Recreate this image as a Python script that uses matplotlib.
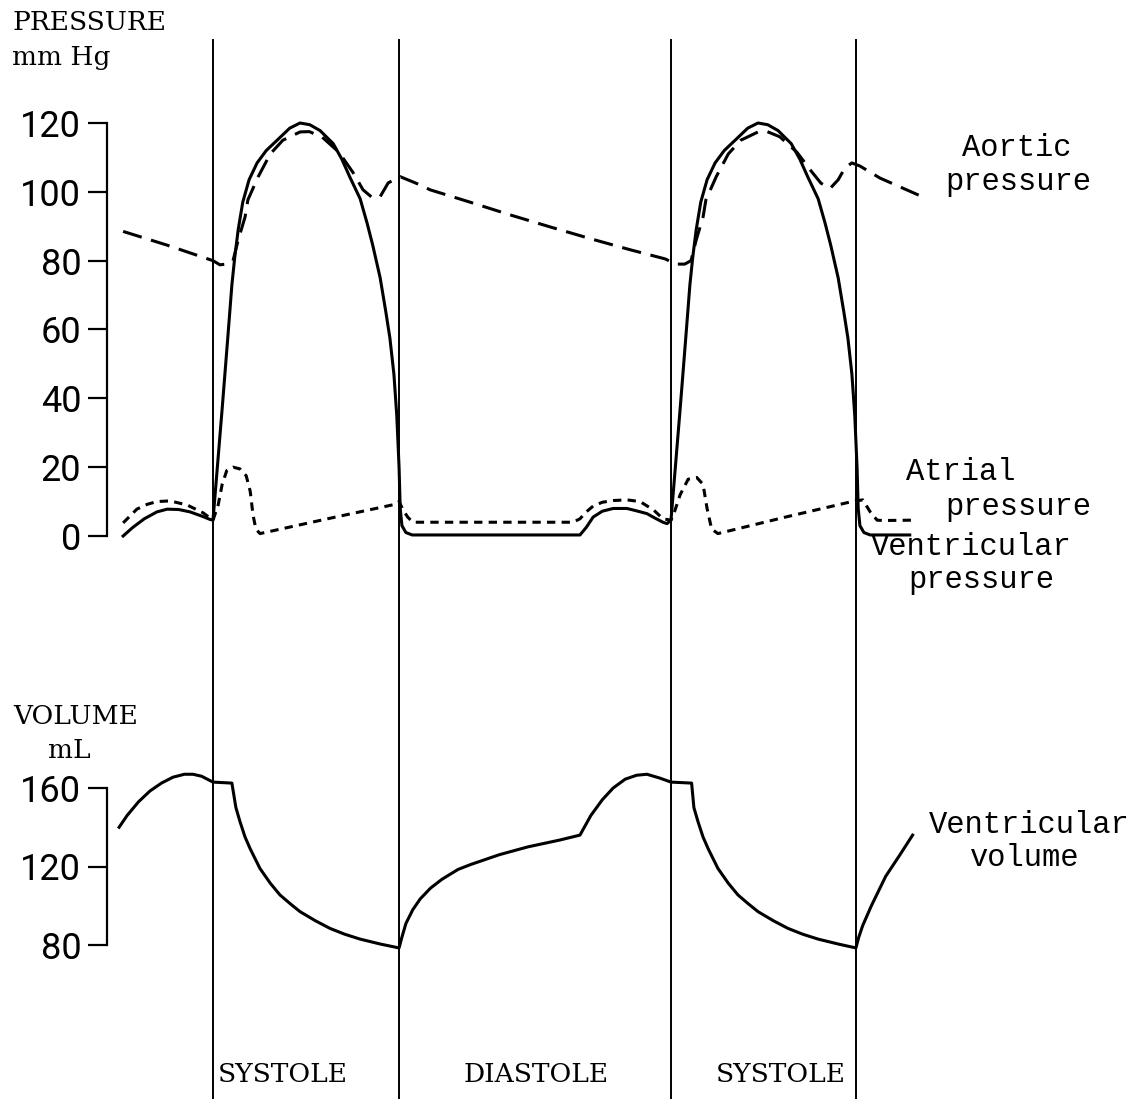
import matplotlib
matplotlib.use("Agg")
import matplotlib.pyplot as plt

plt.rcParams["lines.scale_dashes"] = False

# ---------------- data (time in ms, cycle = 800 ms) ----------------
phase_bounds_ms = [0, 325, 800, 1123]
phase_labels = ["SYSTOLE", "DIASTOLE", "SYSTOLE"]
phase_label_ms = [122, 564, 991]

pressure_ticks = [0, 20, 40, 60, 80, 100, 120]
volume_ticks = [80, 120, 160]

vent_p_t = [-157, -140, -120, -98, -80, -60, -40, -20, -5, 0, 16, 26, 33, 38, 44, 52, 63, 77, 93,
            112, 134, 152, 169, 187, 210, 225, 239, 257, 269, 279, 292, 302, 309, 316, 321, 325,
            327, 330, 337, 348, 641, 652, 664, 680, 699, 723, 740, 758, 772, 786, 793, 800,
            816, 826, 833, 838, 844, 852, 863, 877, 893, 912, 934, 952, 969, 987, 1010, 1025,
            1039, 1057, 1069, 1079, 1092, 1102, 1109, 1116, 1121, 1125, 1127, 1130, 1137, 1148,
            1217]
vent_p = [0, 2.5, 5, 7, 7.8, 7.7, 7, 5.8, 4.8, 4.6, 37, 58, 73, 81, 89, 97, 103.5, 108.4,
          112, 115, 118.5, 120, 119.5, 117.8, 114, 109.5, 104.3, 98, 91, 84.5, 75, 65, 57.5, 47,
          35, 20, 8, 3, 1, 0.3, 0.3, 2.5, 5.5, 7.2, 8, 8, 7.3, 6.5, 5.2, 4, 3.6, 4.6,
          37, 58, 73, 81, 89, 97, 103.5, 108.4, 112, 115, 118.5, 120, 119.5, 117.8, 114,
          109.5, 104.3, 98, 91, 84.5, 75, 65, 57.5, 47, 35, 20, 8, 3, 1, 0.3, 0.3]

aortic_t = [-157, -80, 0, 12, 24, 35, 44, 56, 61, 79, 100, 122, 152, 168, 190, 220, 245, 262, 279,
            292, 306, 327, 362, 379, 449, 519, 589, 659, 728, 790, 808, 824, 835, 844, 856, 861,
            879, 900, 922, 952, 968, 990, 1020, 1045, 1062, 1078, 1092, 1104, 1116, 1130,
            1165, 1240]
aortic_p = [88.5, 84.5, 80, 78.8, 79, 80, 86, 92.7, 97.7, 104.4, 111, 115, 117.4, 117.5, 116,
            111.5, 105.5, 100.6, 98.2, 98.6, 102.6, 104.4, 102, 100.6, 97, 93.3, 89.8, 86.4, 83.2,
            80.5, 79, 79, 80, 86, 92.7, 97.7, 104.4, 111, 115, 117.4, 117.5, 116, 111.5,
            106, 102.5, 101, 103.5, 107, 108.4, 107.5, 104, 98.5]

atrial_t = [-157, -133, -115, -98, -75, -45, -17, -5, 0, 9, 16, 24, 35, 47, 58, 65, 70, 75, 82,
            200, 318, 325, 332, 340, 349, 629, 641, 652, 664, 680, 699, 723, 746, 770, 786, 800,
            806, 816, 830, 845, 856, 863, 871, 882, 1000, 1116, 1135, 1148, 1160, 1170, 1223]
atrial_p = [3.8, 7.8, 9.2, 10, 10.2, 9, 6.7, 5.2, 4.6, 9, 15, 19, 20, 19.5, 17.5, 13, 6, 2, 0.7,
            5, 9.2, 10, 7.6, 5.5, 4, 4, 5, 7, 8.7, 9.8, 10.3, 10.5, 10, 7.5, 5, 4.6,
            7, 12, 16.5, 17, 15, 8, 2, 0.7, 5.5, 10, 10.5, 7, 4.6, 4.5, 4.6]

volume_t = [-164, -150, -130, -110, -90, -70, -50, -35, -20, -10, 0, 33, 40, 47, 56, 65, 82, 100,
            117, 135, 152, 178, 204, 230, 257, 292, 325, 330, 337, 349, 362, 380, 400, 428, 450,
            500, 550, 606, 641, 660, 680, 699, 720, 740, 758, 781, 800, 836, 840, 847, 856, 865,
            882, 900, 917, 935, 952, 978, 1004, 1030, 1057, 1092, 1123, 1128, 1135, 1150, 1165,
            1175, 1200, 1222]
volume_ml = [140, 146, 153, 158.5, 162.5, 165.5, 167, 167, 166, 164.5, 163, 162.5, 150, 143, 135,
             129, 119, 111.5, 105.5, 101, 97, 92.5, 88.5, 85.5, 83, 80.5, 78.5, 84, 91, 98, 103.5,
             109, 113.5, 118.5, 121, 126, 130, 133.5, 136, 146, 154, 160, 164.5, 166.5, 167,
             165, 163, 162.5, 150, 143, 135, 129, 119, 111.5, 105.5, 101, 97, 92.5, 88.5, 85.5,
             83, 80.5, 78.5, 84, 90, 100, 109, 115, 126, 136]

# ---------------- layout helpers (pixels) ----------------
W, H = 1148, 1099
fig = plt.figure(figsize=(W / 100, H / 100), dpi=100)


def rect(x0, y0, x1, y1):
    return [x0 / W, 1 - y1 / H, (x1 - x0) / W, (y1 - y0) / H]


def fx(x):
    return x / W


def fy(y):
    return 1 - y / H


MS_PER_PX = 800 / 458.0
X_ZERO = 213
XLIM = ((107 - X_ZERO) * MS_PER_PX, (1148 - X_ZERO) * MS_PER_PX)

tick_font = dict(family=["Roboto", "DejaVu Sans"], size=26)
serif = ["DejaVu Serif"]
mono = ["Liberation Mono", "DejaVu Sans Mono"]
LW = 2.2


def style_axis(ax, lo, hi, ticks):
    ax.set_xlim(*XLIM)
    ax.set_ylim(lo, hi)
    for s in ["top", "right", "bottom"]:
        ax.spines[s].set_visible(False)
    ax.spines["left"].set_linewidth(1.6)
    ax.spines["left"].set_bounds(ticks[0], ticks[-1])
    ax.set_xticks([])
    ax.set_yticks(ticks)
    ax.set_yticklabels([str(t) for t in ticks], fontdict=tick_font)
    ax.tick_params(axis="y", direction="out", length=13.5, width=1.6, pad=5)
    ax.patch.set_alpha(0)


# overlay for vertical phase lines
ov = fig.add_axes(rect(107, 0, 1148, 1099))
ov.set_xlim(*XLIM)
ov.set_ylim(0, 1)
ov.axis("off")
for b in phase_bounds_ms:
    ov.axvline(b, ymin=0, ymax=fy(40), color="black", lw=1.4)

# pressure panel
axp = fig.add_axes(rect(107, 123, 1148, 536))
style_axis(axp, 0, 120, pressure_ticks)
axp.plot(vent_p_t, vent_p, color="black", lw=LW, clip_on=False, solid_joinstyle="round")
axp.plot(aortic_t, aortic_p, color="black", lw=LW, clip_on=False, dashes=(14, 7))
axp.plot(atrial_t, atrial_p, color="black", lw=LW, clip_on=False, dashes=(6, 4.5))

# volume panel
axv = fig.add_axes(rect(107, 788, 1148, 945))
style_axis(axv, 80, 160, volume_ticks)
axv.plot(volume_t, volume_ml, color="black", lw=LW, clip_on=False, solid_joinstyle="round")

# ---------------- text ----------------
fig.text(fx(12), fy(22), "PRESSURE", family=serif, size=19, va="center", ha="left")
fig.text(fx(12), fy(57), "mm Hg", family=serif, size=19, va="center", ha="left")
fig.text(fx(13), fy(717), "VOLUME", family=serif, size=19, va="center", ha="left")
fig.text(fx(69), fy(750), "mL", family=serif, size=19, va="center", ha="center")


def label(x, y, s):
    fig.text(fx(x), fy(y), s, family=mono, size=22, va="center", ha="center")


label(1017, 148, "Aortic")
label(1018, 182, "pressure")
label(961, 472, "Atrial")
label(1018, 507, "pressure")
label(971, 547, "Ventricular")
label(981, 580, "pressure")
label(1029, 825, "Ventricular")
label(1025, 858, "volume")

for name, t in zip(phase_labels, phase_label_ms):
    xp = X_ZERO + t / MS_PER_PX
    fig.text(fx(xp), fy(1075), name, family=serif, size=19, va="center", ha="center")

fig.savefig("out.png", dpi=100)
